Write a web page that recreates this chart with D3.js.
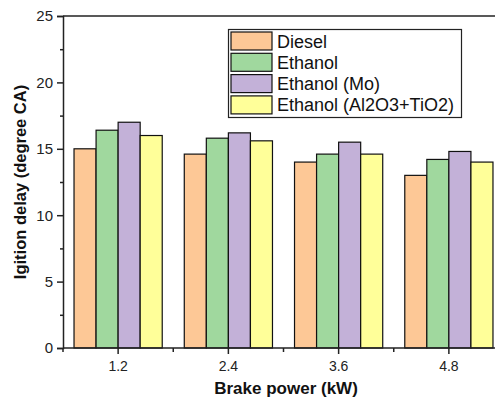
<!DOCTYPE html>
<html>
<head>
<meta charset="utf-8">
<script src="https://cdn.jsdelivr.net/npm/d3@7"></script>
<style>
  html, body { margin: 0; padding: 0; background: #fff; }
  svg { display: block; }
</style>
</head>
<body>
<svg id="chart" width="495" height="401"></svg>
<script>
// Brake power levels and ignition delay per fuel blend
const categories = ["1.2", "2.4", "3.6", "4.8"];
const seriesNames = ["Diesel", "Ethanol", "Ethanol (Mo)", "Ethanol (Al2O3+TiO2)"];
const seriesColors = ["#fdc896", "#a0d89e", "#c3b1d8", "#ffff99"];
const diesel = [15.0, 14.6, 14.0, 13.0];
const ethanol = [16.4, 15.8, 14.6, 14.2];
const ethanolMo = [17.0, 16.2, 15.5, 14.8];
const ethanolAlTi = [16.0, 15.6, 14.6, 14.0];
const yTicks = [0, 5, 10, 15, 20, 25];

const series = [diesel, ethanol, ethanolMo, ethanolAlTi];
const font = "Liberation Sans, Arial, sans-serif";

const svg = d3.select("#chart");
const margin = { left: 63, top: 16, bottom: 348 };
const plotRight = 504; // plot frame runs past the visible page edge

const x = d3.scaleBand().domain(categories).range([margin.left, plotRight]).paddingInner(0.2).paddingOuter(0.1);
const xInner = d3.scaleBand().domain(d3.range(series.length)).range([0, x.bandwidth()]);
const y = d3.scaleLinear().domain([0, 25]).range([margin.bottom, margin.top]);

// Bars
const groups = svg.append("g").selectAll("g")
  .data(categories)
  .join("g")
  .attr("transform", d => `translate(${x(d)},0)`);

groups.selectAll("rect")
  .data((c, ci) => series.map((s, si) => ({ si, v: s[ci] })))
  .join("rect")
  .attr("x", d => xInner(d.si))
  .attr("width", xInner.bandwidth())
  .attr("y", d => y(d.v))
  .attr("height", d => y(0) - y(d.v))
  .attr("fill", d => seriesColors[d.si])
  .attr("stroke", "#111")
  .attr("stroke-width", 1.2);

// Top frame line
svg.append("line")
  .attr("x1", margin.left).attr("x2", plotRight)
  .attr("y1", y(25)).attr("y2", y(25))
  .attr("stroke", "#222").attr("stroke-width", 1.5);

// Y axis with minor ticks
const yAxis = svg.append("g").attr("transform", `translate(${margin.left},0)`);
yAxis.append("g")
  .call(d3.axisLeft(y).tickValues(d3.range(2.5, 25, 5)).tickSize(3).tickFormat(""))
  .call(g => g.select(".domain").remove());
yAxis.append("g")
  .call(d3.axisLeft(y).tickValues(yTicks).tickSize(6).tickPadding(4))
  .call(g => g.selectAll("text").attr("font-size", 15));
yAxis.selectAll("path, line").attr("stroke", "#222").attr("stroke-width", 1.5);
yAxis.selectAll("text").attr("font-family", font).attr("fill", "#222");

// X axis with major ticks at groups and minor ticks between
const xAxis = svg.append("g").attr("transform", `translate(0,${margin.bottom})`);
const step = x.step();
const minorPos = [0, 1, 2, 3, 4].map(i => margin.left + i * step);
xAxis.selectAll("line.minor")
  .data(minorPos)
  .join("line")
  .attr("class", "minor")
  .attr("x1", d => d).attr("x2", d => d)
  .attr("y1", 0).attr("y2", 4)
  .attr("stroke", "#222").attr("stroke-width", 1.5);
xAxis.append("g")
  .call(d3.axisBottom(x).tickSize(6).tickPadding(7))
  .call(g => g.select(".domain").attr("d", `M${margin.left},0H${plotRight}`))
  .call(g => g.selectAll("text").attr("font-size", 14).attr("font-family", font).attr("fill", "#222"))
  .call(g => g.selectAll("path, line").attr("stroke", "#222").attr("stroke-width", 1.5));

// Axis titles
svg.append("text")
  .attr("x", 286)
  .attr("y", 394)
  .attr("text-anchor", "middle")
  .attr("font-family", font)
  .attr("font-weight", "bold")
  .attr("font-size", 17)
  .attr("fill", "#111")
  .text("Brake power (kW)");

svg.append("text")
  .attr("transform", `translate(26,${(margin.top + margin.bottom) / 2}) rotate(-90)`)
  .attr("text-anchor", "middle")
  .attr("font-family", font)
  .attr("font-weight", "bold")
  .attr("font-size", 16.5)
  .attr("fill", "#111")
  .text("Igition delay (degree CA)");

// Legend
const legend = svg.append("g");
legend.append("rect")
  .attr("x", 228.5).attr("y", 29.5)
  .attr("width", 233).attr("height", 88)
  .attr("fill", "#fff").attr("stroke", "#222").attr("stroke-width", 1.2);
const rowH = 21.3;
const items = legend.selectAll("g.item")
  .data(seriesNames)
  .join("g")
  .attr("class", "item")
  .attr("transform", (d, i) => `translate(0,${32 + i * rowH})`);
items.append("rect")
  .attr("x", 231).attr("y", 0)
  .attr("width", 41).attr("height", 18)
  .attr("fill", (d, i) => seriesColors[i])
  .attr("stroke", "#111").attr("stroke-width", 1.2);
items.append("text")
  .attr("x", 277).attr("y", 15.5)
  .attr("font-family", font)
  .attr("font-size", 18)
  .attr("fill", "#111")
  .text(d => d);
</script>
</body>
</html>
